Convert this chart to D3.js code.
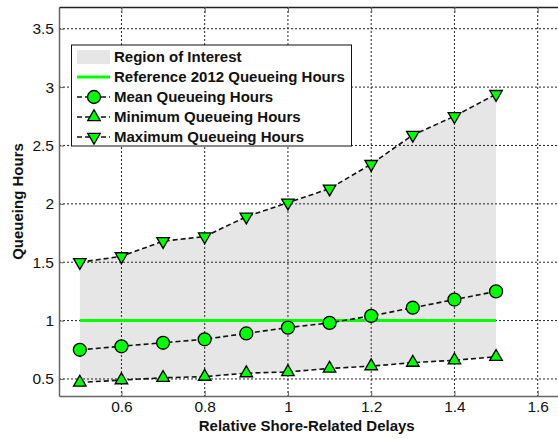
<!DOCTYPE html>
<html><head><meta charset="utf-8">
<script src="https://cdn.jsdelivr.net/npm/d3@7"></script>
<style>body{margin:0;background:#fff;} svg{display:block;font-family:Arial,"Liberation Sans",sans-serif;}</style>
</head><body><svg id="c" width="558" height="439"></svg>
<script>
const delays = [0.5,0.6,0.7,0.8,0.9,1.0,1.1,1.2,1.3,1.4,1.5];
const meanHours = [0.75,0.78,0.81,0.84,0.89,0.94,0.98,1.04,1.11,1.18,1.25];
const minHours = [0.47,0.49,0.51,0.52,0.55,0.56,0.59,0.61,0.64,0.66,0.69];
const maxHours = [1.50,1.55,1.68,1.72,1.89,2.01,2.13,2.34,2.59,2.75,2.94];
const referenceHours = 1;
const xTicks = [0.6,0.8,1.0,1.2,1.4,1.6];
const yTicks = [0.5,1,1.5,2,2.5,3,3.5];
const legendLabels = ["Region of Interest","Reference 2012 Queueing Hours","Mean Queueing Hours","Minimum Queueing Hours","Maximum Queueing Hours"];

const svg = d3.select("#c");
const L=59, R=558.5, T=7, B=396;
const x = d3.scaleLinear().domain([0.45,1.65]).range([L,R]);
const y = d3.scaleLinear().domain([0.354,3.686]).range([B,T]);
const green="#00ff00";

// shaded region
svg.append("path").datum(delays.map((d,i)=>({x:d,lo:minHours[i],hi:maxHours[i]})))
  .attr("fill","#e6e6e6")
  .attr("d", d3.area().x(d=>x(d.x)).y0(d=>y(d.lo)).y1(d=>y(d.hi)));

// grid
const g = svg.append("g");
g.selectAll(".gx").data(xTicks).join("line")
  .attr("x1",d=>x(d)).attr("x2",d=>x(d)).attr("y1",T).attr("y2",B)
  .attr("stroke","#222").attr("stroke-width",1).attr("stroke-dasharray","2,2");
g.selectAll(".gy").data(yTicks).join("line")
  .attr("x1",L).attr("x2",R).attr("y1",d=>y(d)).attr("y2",d=>y(d))
  .attr("stroke","#222").attr("stroke-width",1).attr("stroke-dasharray","2,2");

// axes
const xAxis = d3.axisBottom(x).tickValues(xTicks).tickFormat(d3.format("")).tickSizeInner(-5).tickSizeOuter(0).tickPadding(5);
const yAxis = d3.axisLeft(y).tickValues(yTicks).tickFormat(d3.format("")).tickSizeInner(-5).tickSizeOuter(0).tickPadding(5);
const ax = svg.append("g").attr("transform",`translate(0,${B})`).call(xAxis);
const ay = svg.append("g").attr("transform",`translate(${L},0)`).call(yAxis);
const axTop = svg.append("g").attr("transform",`translate(0,${T})`).call(d3.axisTop(x).tickValues(xTicks).tickFormat("").tickSizeInner(-6).tickSizeOuter(0));
[ax,ay].forEach(a=>{
  a.select(".domain").attr("stroke","#666").attr("stroke-width",1.5);
  a.selectAll(".tick line").attr("stroke","#666");
  a.selectAll(".tick text").attr("font-size",15.5).attr("fill","#111").attr("font-family","Arial, 'Liberation Sans', sans-serif");
});
axTop.select(".domain").attr("stroke","#222").attr("stroke-width",1.5);
axTop.selectAll(".tick line").attr("stroke","#666");

// reference line
svg.append("line").attr("x1",x(delays[0])).attr("x2",x(delays[delays.length-1]))
  .attr("y1",y(referenceHours)).attr("y2",y(referenceHours))
  .attr("stroke",green).attr("stroke-width",3);

const line = d3.line().x(d=>x(d[0])).y(d=>y(d[1]));
const sym = {
  circle: d3.symbol().type(d3.symbolCircle).size(132),
  up: d3.symbol().type(d3.symbolTriangle).size(68),
};
function drawSeries(vals, kind){
  const pts = delays.map((d,i)=>[d,vals[i]]);
  svg.append("path").datum(pts).attr("d",line).attr("fill","none")
    .attr("stroke","#111").attr("stroke-width",1.6).attr("stroke-dasharray","5,3");
  svg.append("g").selectAll("path").data(pts).join("path")
    .attr("transform",d=>`translate(${x(d[0])},${y(d[1])})`+(kind==="down"?" rotate(180)":""))
    .attr("d", kind==="circle"?sym.circle():sym.up())
    .attr("fill",green).attr("stroke","#000").attr("stroke-width",1.3);
}
drawSeries(minHours,"up");
drawSeries(maxHours,"down");
drawSeries(meanHours,"circle");

// axis labels
svg.append("text").attr("x",(L+R)/2-2).attr("y",431).attr("text-anchor","middle")
  .attr("font-size",15).attr("font-weight","bold").attr("fill","#111").text("Relative Shore-Related Delays");
svg.append("text").attr("transform",`translate(23,${(T+B)/2}) rotate(-90)`).attr("text-anchor","middle")
  .attr("font-size",15).attr("font-weight","bold").attr("fill","#111").text("Queueing Hours");

// legend
const lg = svg.append("g");
lg.append("rect").attr("x",71.5).attr("y",45).attr("width",280).attr("height",101)
  .attr("fill","#fff").attr("stroke","#111").attr("stroke-width",1);
const rowY = [57,77,97,117,137];
const sx0=77, sx1=110, sxm=94;
legendLabels.forEach((lab,i)=>{
  const yy=rowY[i];
  if(i===0){
    lg.append("rect").attr("x",sx0).attr("y",yy-7).attr("width",sx1-sx0).attr("height",14).attr("fill","#e6e6e6");
  } else if(i===1){
    lg.append("line").attr("x1",sx0).attr("x2",sx1).attr("y1",yy).attr("y2",yy).attr("stroke",green).attr("stroke-width",3);
  } else {
    lg.append("line").attr("x1",sx0).attr("x2",sx1).attr("y1",yy).attr("y2",yy)
      .attr("stroke","#111").attr("stroke-width",1.6).attr("stroke-dasharray","5,3");
    const kind = i===2?"circle":(i===3?"up":"down");
    lg.append("path").attr("transform",`translate(${sxm},${yy})`+(kind==="down"?" rotate(180)":""))
      .attr("d", kind==="circle"?sym.circle():sym.up())
      .attr("fill",green).attr("stroke","#000").attr("stroke-width",1.3);
  }
  lg.append("text").attr("x",114).attr("y",yy).attr("dy","0.36em")
    .attr("font-size",15).attr("font-weight","bold").attr("fill","#111").text(lab);
});
</script></body></html>
